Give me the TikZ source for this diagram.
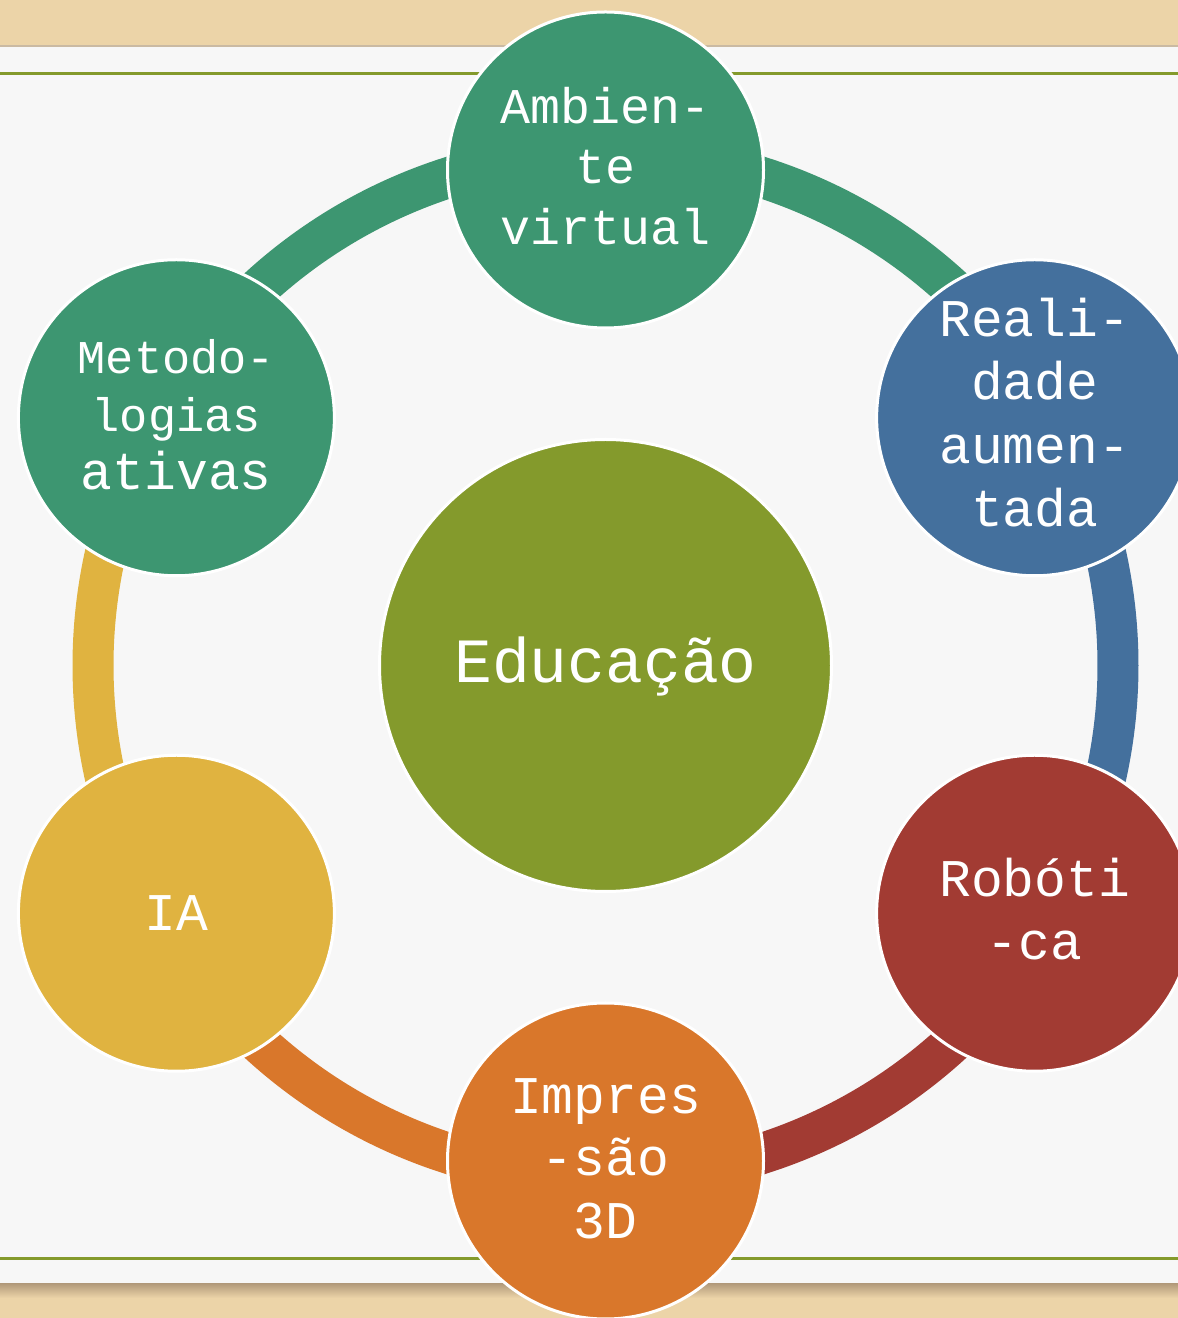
\documentclass[tikz,border=0pt]{standalone}
\usepackage{fontspec}
\newfontfamily\lmono{Liberation Mono}
\definecolor{cgreen}{HTML}{3D9671}
\definecolor{cblue}{HTML}{44709D}
\definecolor{cred}{HTML}{A23B33}
\definecolor{corange}{HTML}{D9772B}
\definecolor{cyellow}{HTML}{E0B340}
\definecolor{colive}{HTML}{849A2C}
\definecolor{wood}{HTML}{ECD4A8}
\definecolor{wooddark}{HTML}{B49C7C}
\definecolor{paper}{HTML}{F7F7F7}
\tikzset{
  circ/.style={circle, minimum size=316pt, inner sep=0pt, draw=white, line width=3pt},
  lbl/.style={text=white, align=center, inner sep=0pt},
  seg/.style={line width=41pt},
  rule/.style={colive, line width=3.5pt},
}
\begin{document}
\begin{tikzpicture}[x=1pt,y=1pt]
\useasboundingbox (0,0) rectangle (1178,1318);
% background
\fill[wood] (0,0) rectangle (1178,1318);
\fill[paper] (0,34) rectangle (1178,1272);
\draw[wooddark!70, line width=1.2pt] (0,1272) -- (1178,1272);
\shade[top color=wooddark, bottom color=wood] (0,34) rectangle (1178,20);
\draw[rule] (0,1244.5) -- (1178,1244.5);
\draw[rule] (0,59.5) -- (1178,59.5);
% ring centre
\coordinate (C) at (605.5,652.5);
% ring segments
\draw[seg, cgreen]  ([shift={(90:512.5)}]C)  arc[start angle=90,  end angle=30,  radius=512.5];
\draw[seg, cblue]   ([shift={(30:512.5)}]C)  arc[start angle=30,  end angle=-30, radius=512.5];
\draw[seg, cred]    ([shift={(-30:512.5)}]C) arc[start angle=-30, end angle=-90, radius=512.5];
\draw[seg, corange] ([shift={(270:512.5)}]C) arc[start angle=270, end angle=210, radius=512.5];
\draw[seg, cyellow] ([shift={(210:512.5)}]C) arc[start angle=210, end angle=150, radius=512.5];
\draw[seg, cgreen]  ([shift={(150:512.5)}]C) arc[start angle=150, end angle=90,  radius=512.5];
% centre
\node[circ, fill=colive, minimum size=452pt] (edu) at (C) {};
\node[lbl, font=\lmono\fontsize{63}{75}\selectfont] (edu-t) at ([yshift=-1pt]edu.center) {Educação};
% outer circles
\node[circ, fill=cgreen]  (amb) at ([shift={(90:495.5)}]C) {};
\node[circ, fill=cblue]   (ra)  at ([shift={(30:495.5)}]C) {};
\node[circ, fill=cred]    (rob) at ([shift={(-30:495.5)}]C) {};
\node[circ, fill=corange] (imp) at ([shift={(-90:495.5)}]C) {};
\node[circ, fill=cyellow] (ia)  at ([shift={(210:495.5)}]C) {};
\node[circ, fill=cgreen]  (met) at ([shift={(150:495.5)}]C) {};
% texts
\node[lbl, font=\lmono\fontsize{50}{60.5}\selectfont] (amb-t) at ([yshift=4pt]amb.center) {Ambien-\\te\\virtual};
\node[lbl, font=\lmono\fontsize{53}{63.5}\selectfont] (ra-t) at ([yshift=5pt]ra.center) {Reali-\\dade\\aumen-\\tada};
\node[lbl, font=\lmono\fontsize{53}{63.5}\selectfont] (rob-t) at ([yshift=4pt]rob.center) {Robóti\\-ca};
\node[lbl, font=\lmono\fontsize{53}{62.5}\selectfont] (imp-t) at ([yshift=2.5pt]imp.center) {Impres\\-são\\3D};
\node[lbl, font=\lmono\fontsize{53}{63}\selectfont] (ia-t) at (ia.center) {IA};
\node[lbl, font=\lmono\fontsize{47}{58}\selectfont] (met-t) at ([yshift=3pt]met.center) {Metodo-\\logias\\{\fontsize{53}{60}\selectfont ativas}};
\end{tikzpicture}
\end{document}
